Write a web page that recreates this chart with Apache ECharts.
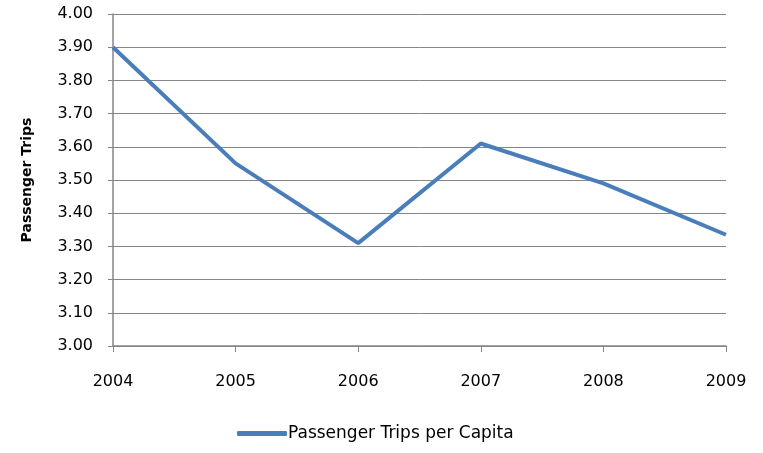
<!DOCTYPE html>
<html>
<head>
<meta charset="utf-8">
<script src="https://cdn.jsdelivr.net/npm/echarts@6/dist/echarts.min.js"></script>
<style>
  html, body { margin: 0; padding: 0; background: #fff; }
  #chart { width: 763px; height: 453px; }
</style>
</head>
<body>
<div id="chart"></div>
<script>
const years = ['2004', '2005', '2006', '2007', '2008', '2009'];
const tripsPerCapita = [3.90, 3.55, 3.31, 3.61, 3.49, 3.335];
const seriesName = 'Passenger Trips per Capita';

const chart = echarts.init(document.getElementById('chart'));
const axisGray = '#868686';
const font = '"DejaVu Sans", "Open Sans", sans-serif';

chart.setOption({
    backgroundColor: '#ffffff',
    animation: false,
    grid: { left: 113, right: 37, top: 14, bottom: 107 },
    legend: {
        data: [seriesName],
        bottom: 6,
        left: 232,
        itemWidth: 50,
        itemHeight: 5,
        itemGap: 4,
        icon: 'roundRect',
        textStyle: { fontFamily: font, fontSize: 17, color: '#000', padding: [0, 0, 0, -4] }
    },
    xAxis: {
        type: 'category',
        data: years,
        boundaryGap: false,
        axisLine: { lineStyle: { color: axisGray, width: 1.5 } },
        axisTick: { show: true, length: 6, lineStyle: { color: axisGray } },
        axisLabel: { fontFamily: font, fontSize: 16, color: '#000', margin: 28 }
    },
    yAxis: {
        type: 'value',
        min: 3.0,
        max: 4.0,
        interval: 0.1,
        name: 'Passenger Trips',
        nameLocation: 'middle',
        nameGap: 79,
        nameTextStyle: { fontFamily: font, fontSize: 14, fontWeight: 'bold', color: '#000' },
        axisLine: { show: true, lineStyle: { color: axisGray, width: 1.5 } },
        axisTick: { show: true, length: 5, lineStyle: { color: axisGray } },
        splitLine: { lineStyle: { color: axisGray, width: 1 } },
        axisLabel: {
            fontFamily: font, fontSize: 16, color: '#000', margin: 20,
            formatter: v => v.toFixed(2)
        }
    },
    series: [{
        name: seriesName,
        type: 'line',
        data: tripsPerCapita,
        showSymbol: false,
        symbol: 'none',
        lineStyle: { color: '#4a7ebb', width: 4 },
        itemStyle: { color: '#4a7ebb' }
    }]
});
</script>
</body>
</html>
